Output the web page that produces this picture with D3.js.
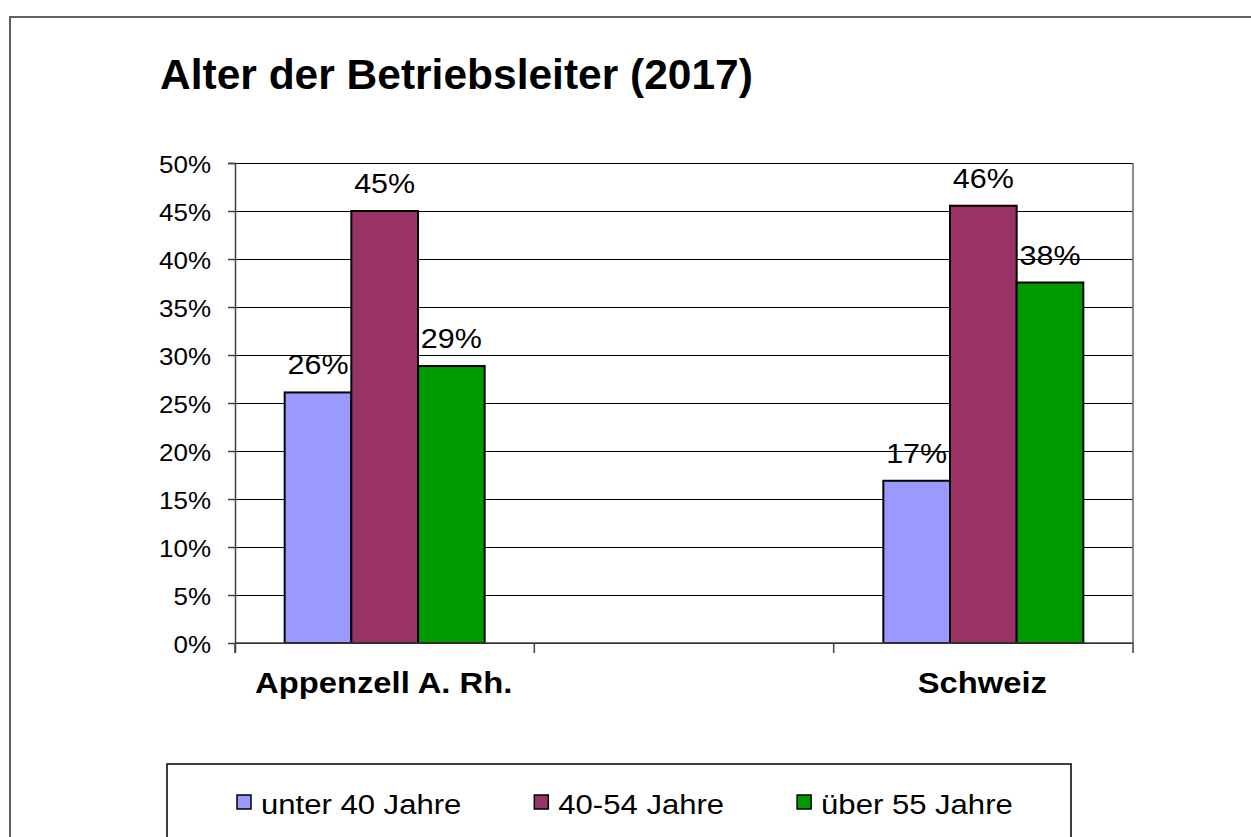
<!DOCTYPE html>
<html>
<head>
<meta charset="utf-8">
<script src="https://cdn.jsdelivr.net/npm/d3@7"></script>
<style>
  body { margin: 0; background: #fff; }
  text { font-family: "Liberation Sans", Arial, sans-serif; fill: #000; }
  .title { font-size: 42.5px; font-weight: bold; }
  .tick-text { font-size: 23px; }
  .bar-value { font-size: 27px; }
  .cat-label { font-size: 29px; font-weight: bold; }
  .legend-text { font-size: 27.5px; }
</style>
</head>
<body>
<div id="chart"></div>
<script>
// data
const categories = ["Appenzell A. Rh.", "", "Schweiz"];
const seriesNames = ["unter 40 Jahre", "40-54 Jahre", "über 55 Jahre"];
const seriesColors = ["#9999ff", "#993366", "#009900"];
const valuesUnter40 = [0.261, null, 0.169];
const values40bis54 = [0.45, null, 0.4555];
const valuesUeber55 = [0.2885, null, 0.3755];
const yTicks = [0, 0.05, 0.10, 0.15, 0.20, 0.25, 0.30, 0.35, 0.40, 0.45, 0.50];
const titleText = "Alter der Betriebsleiter (2017)";

const seriesValues = [valuesUnter40, values40bis54, valuesUeber55];

// the text in the original is a bit stretched sideways
const stretch = 1.13;

const W = 1251, H = 837;
const margin = {top: 163, right: 118, bottom: 194, left: 235},
    width = W - margin.left - margin.right,
    height = H - margin.top - margin.bottom;

const svg = d3.select("#chart")
  .append("svg")
    .attr("width", W)
    .attr("height", H);

// outer frame
svg.append("rect")
  .attr("x", 10).attr("y", 17)
  .attr("width", W + 20).attr("height", H + 20)
  .attr("fill", "none")
  .attr("stroke", "#606060")
  .attr("stroke-width", 2);

// title
svg.append("text")
  .attr("class", "title")
  .attr("x", 160)
  .attr("y", 89)
  .text(titleText);

const g = svg.append("g")
  .attr("transform", `translate(${margin.left},${margin.top})`);

// scales
const x = d3.scaleBand()
  .domain(categories)
  .range([0, width])
  .padding(0);

const xSub = d3.scaleBand()
  .domain(seriesNames)
  .range([0, x.bandwidth()])
  .paddingInner(0)
  .paddingOuter(0.745);

const y = d3.scaleLinear()
  .domain([0, 0.5])
  .range([height, 0]);

// grid
g.append("g")
  .call(d3.axisLeft(y).tickValues(yTicks).tickSize(-width).tickFormat(""))
  .call(s => s.select(".domain").remove())
  .selectAll("line")
    .attr("stroke", "#000")
    .attr("stroke-width", 1);

// right border of plot area
g.append("line")
  .attr("x1", width).attr("x2", width)
  .attr("y1", 0).attr("y2", height)
  .attr("stroke", "#666").attr("stroke-width", 1.5);

// bars
const rows = [];
categories.forEach((c, i) => {
  seriesNames.forEach((s, j) => {
    const v = seriesValues[j][i];
    if (v != null) rows.push({cat: c, series: s, value: v, color: seriesColors[j]});
  });
});

g.selectAll(".bar")
  .data(rows)
  .enter()
  .append("rect")
    .attr("class", "bar")
    .attr("x", d => x(d.cat) + xSub(d.series))
    .attr("y", d => y(d.value))
    .attr("width", xSub.bandwidth())
    .attr("height", d => height - y(d.value))
    .attr("fill", d => d.color)
    .attr("stroke", "#000")
    .attr("stroke-width", 2);

// values on bars
const fmt = d3.format(".0%");
g.selectAll(".bar-value")
  .data(rows)
  .enter()
  .append("text")
    .attr("class", "bar-value")
    .attr("text-anchor", "middle")
    .attr("transform", d => `translate(${x(d.cat) + xSub(d.series) + xSub.bandwidth() / 2},${y(d.value) - 18}) scale(${stretch},1)`)
    .text(d => fmt(d.value));

// y axis
const yAxis = g.append("g")
  .call(d3.axisLeft(y).tickValues(yTicks).tickSize(7).tickFormat(fmt));
yAxis.select(".domain")
  .attr("stroke", "#404040").attr("stroke-width", 1.5)
  .attr("d", `M-7,0.5H0.5V${height + 10}`);
yAxis.selectAll(".tick line").attr("stroke", "#404040").attr("stroke-width", 1.5);
yAxis.selectAll(".tick text")
  .attr("class", "tick-text")
  .attr("font-size", null)
  .attr("font-family", null)
  .attr("x", -24 / stretch)
  .attr("dy", "0.42em")
  .attr("transform", `scale(${stretch},1)`);

// x axis (ticks on band boundaries)
g.append("line")
  .attr("x1", 0).attr("x2", width)
  .attr("y1", height).attr("y2", height)
  .attr("stroke", "#404040").attr("stroke-width", 1.5);

const bounds = categories.map(c => x(c)).concat([width]);
g.selectAll(".x-tick")
  .data(bounds)
  .enter()
  .append("line")
    .attr("x1", d => d).attr("x2", d => d)
    .attr("y1", height).attr("y2", height + 10)
    .attr("stroke", "#404040").attr("stroke-width", 1.5);

g.selectAll(".cat-label")
  .data(categories.filter(c => c !== ""))
  .enter()
  .append("text")
    .attr("class", "cat-label")
    .attr("text-anchor", "middle")
    .attr("transform", d => `translate(${x(d) + x.bandwidth() / 2 - 1},${height + 50}) scale(${stretch},1)`)
    .text(d => d);

// legend
const legendBox = {x: 167, y: 764, w: 904};
svg.append("rect")
  .attr("x", legendBox.x).attr("y", legendBox.y)
  .attr("width", legendBox.w).attr("height", 200)
  .attr("fill", "#fff")
  .attr("stroke", "#000")
  .attr("stroke-width", 1.5);

const legend = svg.append("g");
let lx = 237;
seriesNames.forEach((name, i) => {
  const item = legend.append("g").attr("transform", `translate(${lx},795)`);
  item.append("rect")
    .attr("x", 0).attr("y", 0)
    .attr("width", 14).attr("height", 14)
    .attr("fill", seriesColors[i])
    .attr("stroke", "#000")
    .attr("stroke-width", 1.5);
  const t = item.append("text")
    .attr("class", "legend-text")
    .attr("transform", `translate(24,18.5) scale(${stretch},1)`)
    .text(name);
  const tw = t.node().getComputedTextLength() * stretch;
  lx += 24 + tw + 73;
});
</script>
</body>
</html>
